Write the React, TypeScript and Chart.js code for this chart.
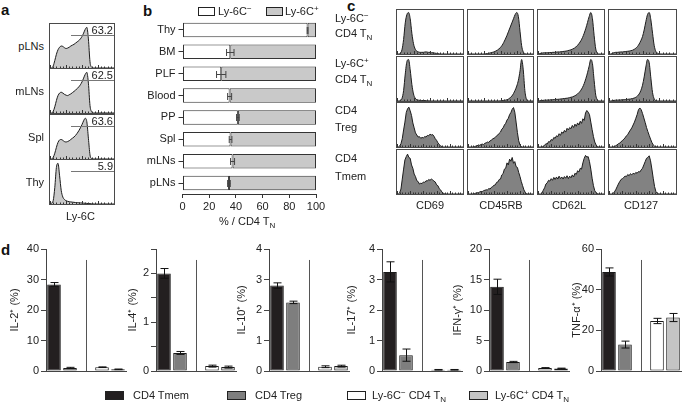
import React, { useEffect, useRef } from 'react';
import { Chart, registerables } from 'chart.js';
Chart.register(...registerables);

const FONT = '"Liberation Sans", Arial, Helvetica, sans-serif';
const TXT = '#222';

// ---------- Panel a: Ly-6C histograms ----------
const aTissues = ['pLNs', 'mLNs', 'Spl', 'Thy'];
const aGates = ['63.2', '62.5', '63.6', '5.9'];
const aPLNs = [0,0,0.05,0.18,0.33,0.44,0.5,0.53,0.52,0.49,0.47,0.48,0.5,0.53,0.55,0.57,0.6,0.63,0.66,0.7,0.76,0.84,0.93,0.98,0.7,0.15,0.02,0,0,0,0,0,0,0,0,0,0,0,0,0,0];
const aMLNs = [0,0,0.04,0.15,0.3,0.42,0.48,0.5,0.48,0.45,0.43,0.42,0.44,0.46,0.49,0.52,0.55,0.59,0.63,0.68,0.75,0.84,0.93,0.98,0.72,0.18,0.03,0,0,0,0,0,0,0,0,0,0,0,0,0,0];
const aSpl = [0,0,0.04,0.14,0.28,0.4,0.46,0.47,0.45,0.42,0.41,0.42,0.44,0.47,0.5,0.53,0.57,0.62,0.68,0.75,0.83,0.92,0.98,0.9,0.5,0.1,0.01,0,0,0,0,0,0,0,0,0,0,0,0,0,0];
const aThy = [0,0.02,0.08,0.4,0.88,0.98,0.68,0.33,0.17,0.11,0.08,0.065,0.055,0.05,0.045,0.04,0.035,0.032,0.03,0.027,0.024,0.02,0.017,0.014,0.011,0.008,0.005,0.003,0,0,0,0,0,0,0,0,0,0,0,0,0];

// ---------- Panel b: stacked bars ----------
const bCats = ['Thy', 'BM', 'PLF', 'Blood', 'PP', 'Spl', 'mLNs', 'pLNs'];
const bNeg = [93.7, 35.8, 29.0, 35.3, 41.5, 36.0, 37.5, 34.8];
const bNegErr = [0.3, 2.8, 3.5, 1.5, 1.0, 1.0, 1.5, 1.0];
const bPos = [6.3, 64.2, 71.0, 64.7, 58.5, 64.0, 62.5, 65.2];
const bTicks = [0, 20, 40, 60, 80, 100];

// ---------- Panel c: marker histograms ----------
const cMarkers = ['CD69', 'CD45RB', 'CD62L', 'CD127'];
const c69Neg = [0,0,0.02,0.1,0.35,0.75,0.95,1.0,0.85,0.5,0.25,0.12,0.07,0.05,0.04,0.04,0.04,0.05,0.05,0.04,0.04,0.03,0.03,0.02,0.015,0.01,0,0,0,0,0,0,0,0,0,0,0,0,0,0,0];
const c45Neg = [0,0,0,0,0,0,0,0,0,0,0,0.005,0.01,0.02,0.03,0.04,0.05,0.07,0.09,0.12,0.16,0.21,0.28,0.36,0.45,0.55,0.65,0.75,0.85,0.95,1.0,0.9,0.55,0.2,0.05,0.01,0,0,0,0,0];
const c62Neg = [0,0.01,0.02,0.025,0.03,0.03,0.03,0.035,0.035,0.04,0.04,0.045,0.05,0.05,0.055,0.06,0.065,0.07,0.08,0.09,0.1,0.12,0.14,0.17,0.21,0.26,0.32,0.4,0.5,0.62,0.76,0.9,1.0,0.85,0.45,0.12,0.02,0,0,0,0];
const c127Neg = [0,0,0.02,0.03,0.04,0.04,0.045,0.05,0.05,0.055,0.06,0.065,0.07,0.08,0.09,0.11,0.14,0.18,0.24,0.32,0.42,0.58,0.78,0.95,1.0,0.82,0.5,0.2,0.06,0.02,0.005,0,0,0,0,0,0,0,0,0,0];
const c69Pos = [0,0,0.01,0.06,0.25,0.65,0.95,1.0,0.75,0.4,0.17,0.07,0.03,0.02,0.015,0.01,0.01,0.01,0.005,0.005,0,0,0,0,0,0,0,0,0,0,0,0,0,0,0,0,0,0,0,0,0];
const c45Pos = [0,0,0,0,0,0,0,0,0,0,0,0,0,0,0,0,0,0,0,0,0.005,0.01,0.015,0.02,0.03,0.05,0.08,0.12,0.18,0.26,0.36,0.5,0.72,1.0,0.75,0.25,0.04,0,0,0,0];
const c62Pos = [0,0.005,0.01,0.015,0.02,0.02,0.025,0.025,0.03,0.03,0.035,0.04,0.04,0.045,0.05,0.055,0.06,0.065,0.07,0.08,0.09,0.1,0.12,0.14,0.17,0.21,0.26,0.33,0.42,0.54,0.68,0.84,1.0,0.9,0.5,0.14,0.03,0,0,0,0];
const c127Pos = [0,0,0.01,0.015,0.02,0.02,0.025,0.025,0.03,0.03,0.035,0.04,0.045,0.05,0.06,0.07,0.09,0.12,0.17,0.25,0.38,0.58,0.82,1.0,0.92,0.55,0.2,0.05,0.01,0,0,0,0,0,0,0,0,0,0,0,0];
const c69Treg = [0,0,0.02,0.08,0.2,0.41,0.6,0.83,0.92,0.96,0.87,0.76,0.58,0.46,0.34,0.29,0.24,0.25,0.21,0.23,0.22,0.25,0.24,0.28,0.27,0.31,0.29,0.3,0.26,0.2,0.16,0.1,0.06,0.03,0.01,0,0,0,0,0,0,0,0,0,0,0,0,0,0,0,0];
const c45Treg = [0,0,0,0,0,0.01,0.02,0.03,0.05,0.04,0.06,0.07,0.06,0.09,0.1,0.12,0.11,0.15,0.16,0.2,0.21,0.23,0.27,0.29,0.33,0.36,0.43,0.46,0.53,0.57,0.65,0.69,0.78,0.83,0.91,0.95,0.84,0.6,0.35,0.15,0.05,0.01,0,0,0,0,0,0,0,0,0];
const c62Treg = [0,0,0,0,0.01,0.04,0.08,0.07,0.13,0.12,0.18,0.16,0.23,0.21,0.27,0.25,0.32,0.28,0.36,0.33,0.4,0.36,0.45,0.41,0.47,0.44,0.52,0.47,0.55,0.5,0.58,0.53,0.62,0.57,0.68,0.64,0.82,0.88,0.84,0.78,0.6,0.42,0.25,0.12,0.05,0.01,0,0,0,0,0];
const c127Treg = [0,0,0,0,0.01,0.03,0.05,0.08,0.09,0.13,0.15,0.19,0.22,0.27,0.3,0.36,0.41,0.46,0.53,0.6,0.69,0.78,0.9,0.94,0.9,0.81,0.7,0.59,0.47,0.37,0.28,0.19,0.11,0.05,0.02,0.005,0,0,0,0,0,0,0,0,0,0,0,0,0,0,0];
const c69Tmem = [0,0,0.03,0.12,0.36,0.6,0.82,0.9,0.96,0.88,0.86,0.7,0.62,0.48,0.42,0.32,0.3,0.24,0.26,0.25,0.29,0.28,0.32,0.31,0.35,0.33,0.36,0.34,0.31,0.29,0.22,0.2,0.13,0.1,0.05,0.02,0.005,0,0,0,0,0,0,0,0,0,0,0,0,0,0];
const c45Tmem = [0,0,0,0,0,0.01,0.02,0.03,0.03,0.05,0.06,0.06,0.08,0.09,0.1,0.1,0.13,0.12,0.16,0.18,0.21,0.22,0.28,0.29,0.35,0.36,0.46,0.49,0.6,0.62,0.75,0.7,0.84,0.79,0.88,0.74,0.78,0.66,0.64,0.52,0.42,0.3,0.2,0.1,0.04,0.01,0,0,0,0,0];
const c62Tmem = [0,0,0,0.02,0.09,0.15,0.24,0.27,0.33,0.31,0.37,0.33,0.4,0.35,0.41,0.36,0.43,0.37,0.41,0.36,0.42,0.38,0.44,0.37,0.43,0.39,0.46,0.41,0.5,0.47,0.56,0.53,0.62,0.6,0.75,0.86,0.93,0.89,0.9,0.78,0.6,0.38,0.2,0.08,0.03,0.01,0,0,0,0,0];
const c127Tmem = [0,0,0,0.01,0.05,0.1,0.17,0.24,0.3,0.35,0.37,0.4,0.43,0.42,0.47,0.44,0.49,0.46,0.5,0.48,0.52,0.5,0.54,0.53,0.58,0.62,0.7,0.78,0.86,0.88,0.92,0.8,0.6,0.38,0.18,0.06,0.02,0.005,0,0,0,0,0,0,0,0,0,0,0,0,0];

// ---------- Panel d: cytokine bars ----------
const dGroups = ['CD4 Tmem', 'CD4 Treg', '', 'Ly-6C− CD4 TN', 'Ly-6C+ CD4 TN'];
const dColors = ['#231f20', '#7e7e7e', 'rgba(0,0,0,0)', '#ffffff', '#c4c4c4'];
const il2 = [28.4, 1.0, 1.25, 0.55];
const il2Err = [0.6, 0.2, 0.1, 0.1];
const il4 = [2.0, 0.37, 0.1, 0.08];
const il4Err = [0.1, 0.03, 0.02, 0.02];
const il10 = [2.8, 2.25, 0.14, 0.16];
const il10Err = [0.09, 0.04, 0.03, 0.03];
const il17 = [3.25, 0.52, 0.04, 0.04];
const il17Err = [0.33, 0.2, 0.01, 0.01];
const ifng = [13.8, 1.48, 0.5, 0.42];
const ifngErr = [1.25, 0.1, 0.05, 0.05];
const tnfa = [48.7, 13.0, 24.6, 26.3];
const tnfaErr = [2.0, 1.7, 1.3, 2.0];

const abs = (o: any): React.CSSProperties => ({ position: 'absolute', ...o });

function Hist({ values, fill, smooth, left, top, width, height }: any) {
  const ref = useRef<HTMLCanvasElement>(null);
  useEffect(() => {
    const baseTicks = {
      id: 'baseTicks',
      afterDatasetsDraw(chart: any) {
        const { ctx } = chart;
        const x = chart.scales.x;
        const b = chart.chartArea.bottom;
        ctx.save();
        ctx.fillStyle = '#333';
        for (let i = 0; i < values.length; i += 2) {
          const px = Math.round(x.getPixelForValue(i));
          const h = i % 10 === 0 ? 3 : 1.5;
          ctx.fillRect(px, b - h, 1, h);
        }
        ctx.restore();
      },
    };
    const chart = new Chart(ref.current!, {
      type: 'line',
      data: {
        labels: values.map((_: number, i: number) => String(i)),
        datasets: [{
          data: values, borderColor: '#1c1c1c', borderWidth: 1, backgroundColor: fill,
          fill: 'origin', pointRadius: 0, tension: smooth ? 0.4 : 0,
          cubicInterpolationMode: smooth ? 'monotone' : 'default',
        }],
      },
      options: {
        animation: false, responsive: false, events: [],
        plugins: { legend: { display: false }, tooltip: { enabled: false } },
        layout: { padding: 0 },
        scales: { x: { display: false }, y: { display: false, min: 0, max: 1.06 } },
      } as any,
      plugins: [baseTicks],
    });
    return () => chart.destroy();
  }, []);
  return (
    <div style={abs({ left, top, width, height, border: '1px solid #4a4a4a', boxSizing: 'border-box', background: '#fff' })}>
      <canvas ref={ref} width={width - 2} height={height - 2} style={{ display: 'block' }} />
    </div>
  );
}

function PanelB() {
  const ref = useRef<HTMLCanvasElement>(null);
  useEffect(() => {
    const errPlugin = {
      id: 'bErr',
      afterDatasetsDraw(chart: any) {
        const { ctx } = chart;
        const x = chart.scales.x, y = chart.scales.y;
        ctx.save();
        ctx.strokeStyle = '#444';
        ctx.lineWidth = 1;
        bNeg.forEach((v, i) => {
          const e = bNegErr[i];
          const yc = Math.round(y.getPixelForValue(i)) + 0.5;
          const x1 = x.getPixelForValue(v - e), x2 = x.getPixelForValue(v + e);
          ctx.beginPath();
          ctx.moveTo(x1, yc); ctx.lineTo(x2, yc);
          ctx.moveTo(x1, yc - 3.5); ctx.lineTo(x1, yc + 3.5);
          ctx.moveTo(x2, yc - 3.5); ctx.lineTo(x2, yc + 3.5);
          ctx.stroke();
        });
        ctx.restore();
      },
    };
    const tickFont = { family: FONT, size: 11 };
    const chart = new Chart(ref.current!, {
      type: 'bar',
      data: {
        labels: bCats,
        datasets: [
          { label: 'Ly-6C−', data: bNeg, backgroundColor: '#ffffff', borderColor: '#333', borderWidth: 1, borderSkipped: false, barPercentage: 0.66, categoryPercentage: 1 },
          { label: 'Ly-6C+', data: bPos, backgroundColor: '#c9c9c9', borderColor: '#333', borderWidth: 1, borderSkipped: false, barPercentage: 0.66, categoryPercentage: 1 },
        ],
      },
      options: {
        indexAxis: 'y', animation: false, responsive: false, events: [],
        plugins: { legend: { display: false }, tooltip: { enabled: false } },
        layout: { padding: { top: 19, right: 14, left: 0, bottom: 0 } },
        scales: {
          x: {
            stacked: true, min: 0, max: 100,
            afterBuildTicks: (s: any) => { s.ticks = bTicks.map((v) => ({ value: v })); },
            ticks: { font: tickFont, color: TXT, padding: 2, maxRotation: 0 },
            grid: { drawOnChartArea: false, tickLength: 4, color: '#333' },
            border: { color: '#333' },
            afterFit: (s: any) => { s.height = 24; },
          },
          y: {
            stacked: true,
            ticks: { font: tickFont, color: TXT, padding: 3 },
            grid: { drawOnChartArea: false, tickLength: 4, color: '#333', offset: false },
            border: { display: false },
            afterFit: (s: any) => { s.width = 52.5; },
          },
        },
      } as any,
      plugins: [errPlugin],
    });
    return () => chart.destroy();
  }, []);
  return <canvas ref={ref} width={200} height={218} style={abs({ left: 130, top: 0 })} />;
}

function Cyto({ axisX, vals, errs, max, step, title, titleOff, intOnly }: any) {
  const ref = useRef<HTMLCanvasElement>(null);
  const W = 44;
  useEffect(() => {
    const data = [vals[0], vals[1], null, vals[2], vals[3]];
    const err = [errs[0], errs[1], null, errs[2], errs[3]];
    const plug = {
      id: 'dExtras',
      afterDatasetsDraw(chart: any) {
        const { ctx } = chart;
        const x = chart.scales.x, y = chart.scales.y;
        ctx.save();
        ctx.lineWidth = 1;
        ctx.strokeStyle = '#555';
        const sx = Math.round(x.getPixelForValue(2)) + 0.5;
        ctx.beginPath();
        ctx.moveTo(sx, y.getPixelForValue(max * 0.91));
        ctx.lineTo(sx, y.getPixelForValue(0));
        ctx.stroke();
        ctx.strokeStyle = '#111';
        const meta = chart.getDatasetMeta(0);
        data.forEach((v, i) => {
          if (v === null) return;
          const cx = Math.round(meta.data[i].x) + 0.5;
          const y1 = y.getPixelForValue(Math.max(0, v - err[i]!));
          const y2 = y.getPixelForValue(v + err[i]!);
          ctx.beginPath();
          ctx.moveTo(cx, y1); ctx.lineTo(cx, y2);
          ctx.moveTo(cx - 4, y2); ctx.lineTo(cx + 4, y2);
          ctx.moveTo(cx - 4, y1); ctx.lineTo(cx + 4, y1);
          ctx.stroke();
        });
        ctx.restore();
      },
    };
    const chart = new Chart(ref.current!, {
      type: 'bar',
      data: {
        labels: dGroups,
        datasets: [{ data, backgroundColor: dColors, borderColor: '#1a1a1a', borderWidth: 1, borderSkipped: false, barPercentage: 0.85, categoryPercentage: 1 }],
      },
      options: {
        animation: false, responsive: false, events: [],
        plugins: { legend: { display: false }, tooltip: { enabled: false } },
        layout: { padding: { top: 11, right: 2, left: 0, bottom: 0 } },
        scales: {
          x: {
            ticks: { display: false }, grid: { display: false, drawTicks: false },
            border: { color: '#444' },
            afterFit: (s: any) => { s.height = 9; },
          },
          y: {
            min: 0, max,
            ticks: {
              stepSize: step, font: { family: FONT, size: 11 }, color: TXT, padding: 2,
              callback: (v: number) => (intOnly && !Number.isInteger(v) ? '' : String(v)),
            },
            grid: { drawOnChartArea: false, tickLength: 5, color: '#444' },
            border: { color: '#444' },
            title: { display: true, text: title, font: { family: FONT, size: 11 }, color: TXT, padding: { top: W - titleOff - 6.6, bottom: 0 } },
            afterFit: (s: any) => { s.width = W; },
          },
        },
      } as any,
      plugins: [plug],
    });
    return () => chart.destroy();
  }, []);
  return <canvas ref={ref} width={W + 82} height={142} style={abs({ left: axisX - W, top: 238 })} />;
}

const Sub = ({ children }: any) => <span style={{ fontSize: 8, position: 'relative', top: 3 }}>{children}</span>;
const Sup = ({ children }: any) => <span style={{ fontSize: 8, position: 'relative', top: -4 }}>{children}</span>;

function Swatch({ left, top, w, h, color }: any) {
  return <div style={abs({ left, top, width: w, height: h, background: color, border: '1px solid #222', boxSizing: 'border-box' })} />;
}

export default function App() {
  const txt: React.CSSProperties = { fontFamily: FONT, fontSize: 11, color: TXT, whiteSpace: 'nowrap', lineHeight: '14px' };
  const letter: React.CSSProperties = { fontFamily: FONT, fontSize: 15, fontWeight: 'bold', color: '#111', lineHeight: '16px' };

  const aHist = [aPLNs, aMLNs, aSpl, aThy];
  const aTops = [23, 68, 114, 159];
  const cGrid = [
    [c69Neg, c45Neg, c62Neg, c127Neg],
    [c69Pos, c45Pos, c62Pos, c127Pos],
    [c69Treg, c45Treg, c62Treg, c127Treg],
    [c69Tmem, c45Tmem, c62Tmem, c127Tmem],
  ];
  const cLefts = [396, 467, 537, 608];
  const cWidths = [68, 67, 68, 69];
  const cTops = [9, 56, 102, 149];
  const cRowLabels: [React.ReactNode, React.ReactNode, number, number][] = [
    [<>Ly-6C<Sup>−</Sup></>, <>CD4 T<Sub>N</Sub></>, 18, 33],
    [<>Ly-6C<Sup>+</Sup></>, <>CD4 T<Sub>N</Sub></>, 63, 79],
    [<>CD4</>, <>Treg</>, 110, 127],
    [<>CD4</>, <>Tmem</>, 158, 176],
  ];
  const cLabelX = [430, 501, 569, 641];

  const dCharts = [
    { axisX: 46, vals: il2, errs: il2Err, max: 40, step: 10, title: 'IL-2⁺ (%)', titleOff: 31 },
    { axisX: 156, vals: il4, errs: il4Err, max: 2.5, step: 0.5, title: 'IL-4⁺ (%)', titleOff: 23.5, intOnly: true },
    { axisX: 269, vals: il10, errs: il10Err, max: 4, step: 1, title: 'IL-10⁺ (%)', titleOff: 27 },
    { axisX: 382, vals: il17, errs: il17Err, max: 4, step: 1, title: 'IL-17⁺ (%)', titleOff: 30 },
    { axisX: 489, vals: ifng, errs: ifngErr, max: 20, step: 5, title: 'IFN-γ⁺ (%)', titleOff: 31 },
    { axisX: 601, vals: tnfa, errs: tnfaErr, max: 60, step: 20, title: 'TNF-α⁺ (%)', titleOff: 24 },
  ];

  const legend = [
    { box: 105, text: 133, color: dColors[0], label: <>CD4 Tmem</> },
    { box: 227, text: 255, color: dColors[1], label: <>CD4 Treg</> },
    { box: 347, text: 372, color: dColors[3], label: <>Ly-6C<Sup>−</Sup> CD4 T<Sub>N</Sub></> },
    { box: 469, text: 495, color: dColors[4], label: <>Ly-6C<Sup>+</Sup> CD4 T<Sub>N</Sub></> },
  ];

  return (
    <div style={abs({ position: 'fixed', left: 0, top: 0, width: 685, height: 404, background: '#fff', overflow: 'hidden' })}>
      <div style={abs({ ...letter, left: 1, top: 2 })}>a</div>
      <div style={abs({ ...letter, left: 143, top: 3 })}>b</div>
      <div style={abs({ ...letter, left: 347, top: -2 })}>c</div>
      <div style={abs({ ...letter, left: 1, top: 242 })}>d</div>

      {aHist.map((h, i) => (
        <React.Fragment key={'a' + i}>
          <Hist values={h} fill="#c8c8c8" smooth left={49} top={aTops[i]} width={66} height={46} />
          <div style={abs({ ...txt, right: 685 - 44, top: aTops[i] + 16, textAlign: 'right' })}>{aTissues[i]}</div>
          <div style={abs({ left: 71, top: aTops[i] + 12, width: 43, height: 0, borderTop: '1px solid #777' })} />
          <div style={abs({ ...txt, right: 685 - 113, top: aTops[i] + 0, textAlign: 'right' })}>{aGates[i]}</div>
        </React.Fragment>
      ))}
      <div style={abs({ ...txt, left: 66, top: 209 })}>Ly-6C</div>

      <PanelB />
      <Swatch left={198} top={7} w={17} h={9} color="#ffffff" />
      <div style={abs({ ...txt, left: 218, top: 4 })}>Ly-6C<Sup>−</Sup></div>
      <Swatch left={266} top={7} w={17} h={9} color="#c9c9c9" />
      <div style={abs({ ...txt, left: 285, top: 4 })}>Ly-6C<Sup>+</Sup></div>
      <div style={abs({ ...txt, left: 219, top: 214 })}>% / CD4 T<Sub>N</Sub></div>

      {cGrid.map((row, r) => row.map((h, c) => (
        <Hist key={'c' + r + c} values={h} fill="#828282" smooth={r < 2} left={cLefts[c]} top={cTops[r]} width={cWidths[c]} height={46} />
      )))}
      {cRowLabels.map(([l1, l2, y1, y2], i) => (
        <React.Fragment key={'rl' + i}>
          <div style={abs({ ...txt, left: 335, top: y1 - 7 })}>{l1}</div>
          <div style={abs({ ...txt, left: 335, top: y2 - 7 })}>{l2}</div>
        </React.Fragment>
      ))}
      {cMarkers.map((m, i) => (
        <div key={m} style={abs({ ...txt, left: cLabelX[i] - 40, width: 80, textAlign: 'center', top: 198 })}>{m}</div>
      ))}

      {dCharts.map((d, i) => <Cyto key={'d' + i} {...d} />)}

      {legend.map((l, i) => (
        <React.Fragment key={'lg' + i}>
          <Swatch left={l.box} top={391} w={19} h={9} color={l.color} />
          <div style={abs({ ...txt, left: l.text, top: 388 })}>{l.label}</div>
        </React.Fragment>
      ))}
    </div>
  );
}
